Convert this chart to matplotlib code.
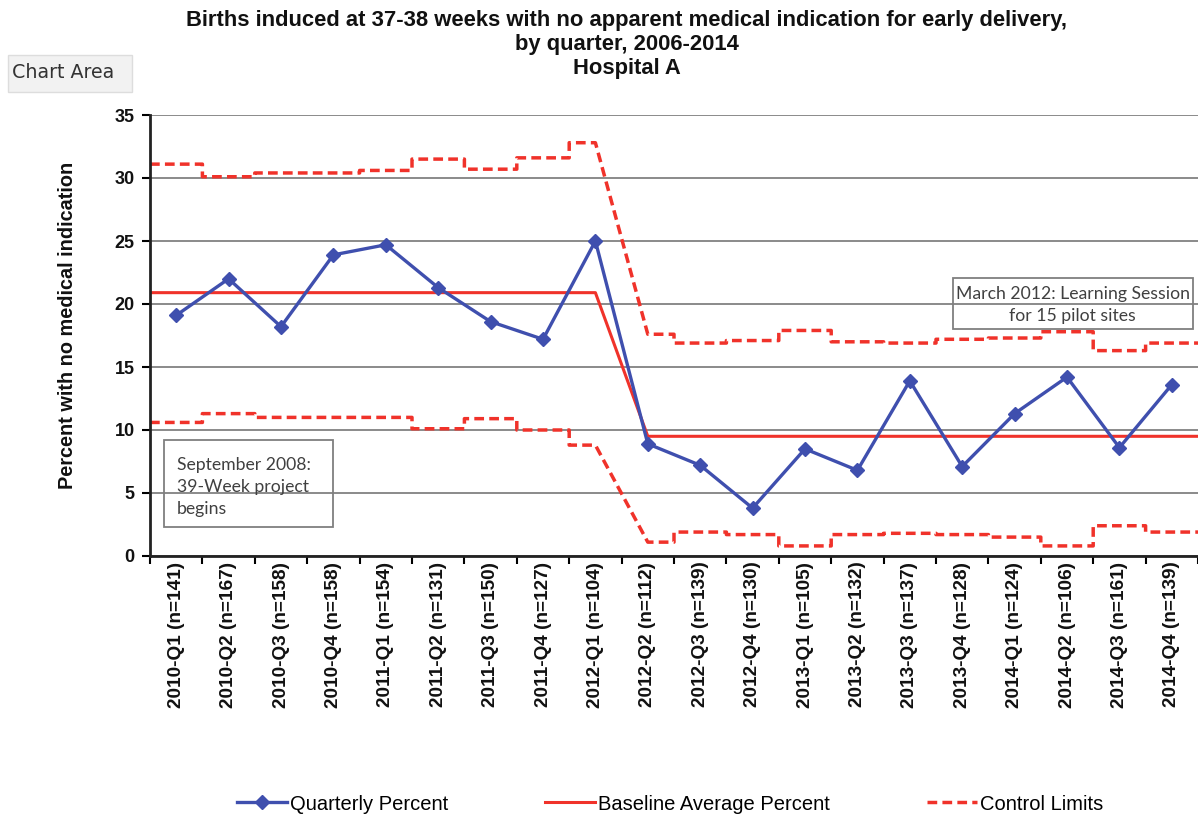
import matplotlib.pyplot as plt
from matplotlib.lines import Line2D
from matplotlib.patches import Rectangle


quarters = ["2010-Q1", "2010-Q2", "2010-Q3", "2010-Q4",
            "2011-Q1", "2011-Q2", "2011-Q3", "2011-Q4",
            "2012-Q1", "2012-Q2", "2012-Q3", "2012-Q4",
            "2013-Q1", "2013-Q2", "2013-Q3", "2013-Q4",
            "2014-Q1", "2014-Q2", "2014-Q3", "2014-Q4"]
n_births = [141, 167, 158, 158, 154, 131, 150, 127, 104, 112,
            139, 130, 105, 132, 137, 128, 124, 106, 161, 139]
quarterly_pct = [19.1, 22.0, 18.2, 23.9, 24.7, 21.3, 18.6, 17.2, 25.0, 8.9,
                 7.2, 3.8, 8.5, 6.8, 13.9, 7.1, 11.3, 14.2, 8.6, 13.6]
baseline_pct = [20.9, 20.9, 20.9, 20.9, 20.9, 20.9, 20.9, 20.9, 20.9, 9.5,
                9.5, 9.5, 9.5, 9.5, 9.5, 9.5, 9.5, 9.5, 9.5, 9.5]
upper_limit = [31.1, 30.1, 30.4, 30.4, 30.6, 31.5, 30.7, 31.6, 32.8, 17.6,
               16.9, 17.1, 17.9, 17.0, 16.9, 17.2, 17.3, 17.8, 16.3, 16.9]
lower_limit = [10.6, 11.3, 11.0, 11.0, 11.0, 10.1, 10.9, 10.0, 8.8, 1.1,
               1.9, 1.7, 0.8, 1.7, 1.8, 1.7, 1.5, 0.8, 2.4, 1.9]
phase_start = 9  # first quarter after the learning session

BLUE = "#3F4FAE"
RED = "#F0322A"
GRID = "#8A8A8A"
TEXT_FONT = "Liberation Sans"


def step_path(levels, split):
    # flat within each quarter, diagonal across the phase change
    xs, ys = [], []
    for i, v in enumerate(levels):
        left = i if i == split else i - 0.5
        right = i if i == split - 1 else i + 0.5
        xs += [left, right]
        ys += [v, v]
    return xs, ys


fig = plt.figure(figsize=(11.98, 8.17), dpi=100)
ax = fig.add_axes([150 / 1198, 1 - 556 / 817, 1048 / 1198, 441 / 817])

x = list(range(len(quarters)))

ax.set_ylim(0, 35)
ax.set_xlim(-0.5, len(quarters) - 0.5)
ax.set_yticks(range(0, 36, 5))
ax.yaxis.grid(True, color=GRID, linewidth=1.4)
ax.set_axisbelow(True)

bx, by = step_path(upper_limit, phase_start)
ax.plot(bx, by, color=RED, linewidth=2.5, linestyle=(0, (2.8, 1.5)))
bx, by = step_path(lower_limit, phase_start)
ax.plot(bx, by, color=RED, linewidth=2.5, linestyle=(0, (2.8, 1.5)))
bx, by = step_path(baseline_pct, phase_start)
ax.plot(bx, by, color=RED, linewidth=2.2)

ax.plot(x, quarterly_pct, color=BLUE, linewidth=2.4, marker="D",
        markersize=7, zorder=5)

for side in ["top", "right"]:
    ax.spines[side].set_visible(False)
for side in ["left", "bottom"]:
    ax.spines[side].set_linewidth(2)
    ax.spines[side].set_color("#222222")

ax.set_xticks(x)
ax.set_xticklabels([f"{q} (n={n})" for q, n in zip(quarters, n_births)],
                   rotation=90, fontsize=13.7, fontweight="bold",
                   family=TEXT_FONT, color="#111111")
ax.set_xticks([i - 0.5 for i in range(len(quarters) + 1)], minor=True)
ax.tick_params(axis="x", which="major", length=0, pad=4)
ax.tick_params(axis="x", which="minor", length=6, width=1.5, direction="out")
ax.tick_params(axis="y", length=6, width=1.5, pad=5)
for lbl in ax.get_yticklabels():
    lbl.set_fontsize(13)
    lbl.set_fontweight("bold")
    lbl.set_family(TEXT_FONT)
    lbl.set_color("#111111")

fig.text(68 / 1198, 1 - 325 / 817, "Percent with no medical indication",
         rotation=90, ha="center", va="center", fontsize=14.3,
         fontweight="bold", family=TEXT_FONT, color="#111111")

fig.text(627 / 1198, 1 - 10 / 817,
         "Births induced at 37-38 weeks with no apparent medical indication for early delivery,\n"
         "by quarter, 2006-2014\nHospital A",
         ha="center", va="top", fontsize=15.8, fontweight="bold",
         family=TEXT_FONT, linespacing=1.2, color="#111111")

# annotation boxes
ax.add_patch(Rectangle((-0.23, 2.3), 3.22, 6.9, fill=False,
                       edgecolor="#7F7F7F", linewidth=1.3, zorder=6))
ax.text(0.02, 7.85, "September 2008:\n39-Week project\nbegins",
        ha="left", va="top", fontsize=12.7, family="Lato",
        color="#404040", linespacing=1.45, zorder=7)

ax.add_patch(Rectangle((14.82, 18.0), 4.58, 4.1, fill=False,
                       edgecolor="#7F7F7F", linewidth=1.3, zorder=6))
ax.text(17.11, 19.95, "March 2012: Learning Session\nfor 15 pilot sites",
        ha="center", va="center", fontsize=12.7, family="Lato",
        color="#404040", linespacing=1.45, zorder=7)

# legend
handles = [
    Line2D([], [], color=BLUE, linewidth=2.4, marker="D", markersize=7),
    Line2D([], [], color=RED, linewidth=2.2),
    Line2D([], [], color=RED, linewidth=2.5, linestyle=(0, (2.8, 1.5))),
]
fig.legend(handles, ["Quarterly Percent", "Baseline Average Percent", "Control Limits"],
           loc="center", bbox_to_anchor=(670 / 1198, 1 - 804 / 817), ncol=3,
           frameon=False, handlelength=2.5, handletextpad=0.15,
           columnspacing=4.8, prop={"family": TEXT_FONT, "size": 14.5})

# the "Chart Area" tooltip left over in the screenshot
fig.patches.append(Rectangle((8 / 1198, 1 - 92 / 817), 124 / 1198, 37 / 817,
                             transform=fig.transFigure, facecolor="#F2F2F2",
                             edgecolor="#DDDDDD", linewidth=1))
fig.text(12 / 1198, 1 - 73 / 817, "Chart Area", ha="left", va="center",
         fontsize=13.7, color="#333333")

fig.savefig("out.png", dpi=100)
plt.close(fig)
print("Saved: out.png")
